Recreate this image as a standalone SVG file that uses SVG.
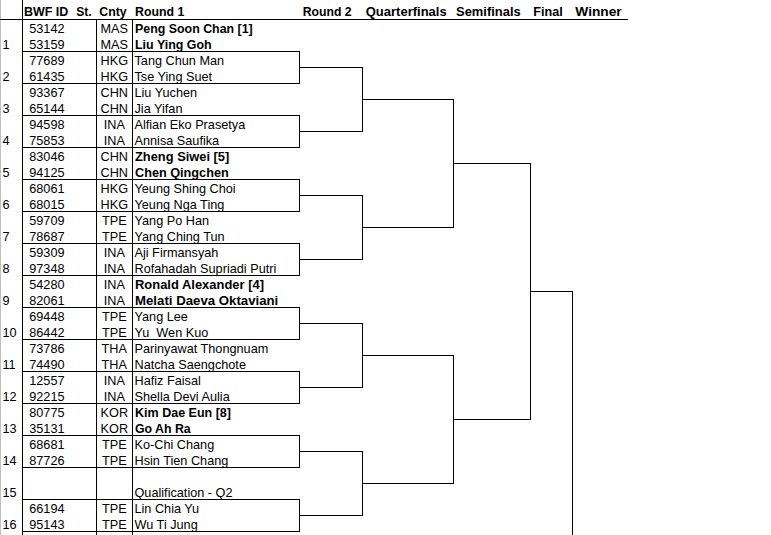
<svg xmlns="http://www.w3.org/2000/svg" width="771" height="535" viewBox="0 0 771 535">
<style>
.bg{fill:#ffffff}
.ln{stroke:#000;stroke-width:1;fill:none;shape-rendering:crispEdges}
.edge{stroke:#c0c0c0;stroke-width:1;shape-rendering:crispEdges}
.t{font-family:"Liberation Sans",Arial,sans-serif;font-size:12.7px;fill:#000}
.n{text-anchor:end}
.c{text-anchor:middle}
.b{font-family:"Liberation Sans",Arial,sans-serif;font-size:13.3px;font-weight:bold;fill:#000}
.h{font-family:"Liberation Sans",Arial,sans-serif;font-size:13.3px;font-weight:bold;fill:#000}
</style>
<rect class="bg" x="0" y="0" width="771" height="535"/>
<g id="grid">
<line class="edge" x1="0.5" y1="0" x2="0.5" y2="535"/>
<path class="ln" d="M22.5 0V535M96.5 19.5V535M132.5 19.5V535M0 19.5H628"/>
<path class="ln" d="M22.5 51.5H299.5M22.5 83.5H299.5M22.5 115.5H299.5M22.5 147.5H299.5M22.5 179.5H299.5M22.5 211.5H299.5M22.5 243.5H299.5M22.5 275.5H299.5M22.5 307.5H299.5M22.5 339.5H299.5M22.5 371.5H299.5M22.5 403.5H299.5M22.5 435.5H299.5M22.5 467.5H299.5M22.5 499.5H299.5M22.5 531.5H299.5"/>
<path class="ln" d="M299.5 51.5V83.5M299.5 115.5V147.5M299.5 179.5V211.5M299.5 243.5V275.5M299.5 307.5V339.5M299.5 371.5V403.5M299.5 435.5V467.5M299.5 499.5V531.5"/>
</g>
<g id="header">
<text class="h" x="24" y="16" textLength="44.3" lengthAdjust="spacingAndGlyphs">BWF ID</text>
<text class="h" x="76.3" y="16" textLength="15.4" lengthAdjust="spacingAndGlyphs">St.</text>
<text class="h" x="99.3" y="16" textLength="27.4" lengthAdjust="spacingAndGlyphs">Cnty</text>
<text class="h" x="135" y="16" textLength="49.3" lengthAdjust="spacingAndGlyphs">Round 1</text>
<text class="h" x="302.7" y="16" textLength="49" lengthAdjust="spacingAndGlyphs">Round 2</text>
<text class="h" x="365.7" y="16" textLength="81" lengthAdjust="spacingAndGlyphs">Quarterfinals</text>
<text class="h" x="456" y="16" textLength="64.7" lengthAdjust="spacingAndGlyphs">Semifinals</text>
<text class="h" x="533.3" y="16" textLength="29.4" lengthAdjust="spacingAndGlyphs">Final</text>
<text class="h" x="575.3" y="16" textLength="46.4" lengthAdjust="spacingAndGlyphs">Winner</text>
</g>
<g id="pair1">
<text class="t n" x="64.5" y="33">53142</text><text class="t c" x="114.3" y="33">MAS</text><text class="b" x="135" y="33" textLength="117.7" lengthAdjust="spacingAndGlyphs">Peng Soon Chan [1]</text>
<text class="t" x="2.5" y="49">1</text><text class="t n" x="64.5" y="49">53159</text><text class="t c" x="114.3" y="49">MAS</text><text class="b" x="135" y="49" textLength="76.7" lengthAdjust="spacingAndGlyphs">Liu Ying Goh</text>
</g>
<g id="pair2">
<text class="t n" x="64.5" y="65">77689</text><text class="t c" x="114.3" y="65">HKG</text><text class="t" x="134.5" y="65">Tang Chun Man</text>
<text class="t" x="2.5" y="81">2</text><text class="t n" x="64.5" y="81">61435</text><text class="t c" x="114.3" y="81">HKG</text><text class="t" x="134.5" y="81">Tse Ying Suet</text>
</g>
<g id="pair3">
<text class="t n" x="64.5" y="97">93367</text><text class="t c" x="114.3" y="97">CHN</text><text class="t" x="134.5" y="97">Liu Yuchen</text>
<text class="t" x="2.5" y="113">3</text><text class="t n" x="64.5" y="113">65144</text><text class="t c" x="114.3" y="113">CHN</text><text class="t" x="134.5" y="113">Jia Yifan</text>
</g>
<g id="pair4">
<text class="t n" x="64.5" y="129">94598</text><text class="t c" x="114.3" y="129">INA</text><text class="t" x="134.5" y="129">Alfian Eko Prasetya</text>
<text class="t" x="2.5" y="145">4</text><text class="t n" x="64.5" y="145">75853</text><text class="t c" x="114.3" y="145">INA</text><text class="t" x="134.5" y="145">Annisa Saufika</text>
</g>
<g id="pair5">
<text class="t n" x="64.5" y="161">83046</text><text class="t c" x="114.3" y="161">CHN</text><text class="b" x="135" y="161" textLength="94.3" lengthAdjust="spacingAndGlyphs">Zheng Siwei [5]</text>
<text class="t" x="2.5" y="177">5</text><text class="t n" x="64.5" y="177">94125</text><text class="t c" x="114.3" y="177">CHN</text><text class="b" x="135" y="177" textLength="93.7" lengthAdjust="spacingAndGlyphs">Chen Qingchen</text>
</g>
<g id="pair6">
<text class="t n" x="64.5" y="193">68061</text><text class="t c" x="114.3" y="193">HKG</text><text class="t" x="134.5" y="193">Yeung Shing Choi</text>
<text class="t" x="2.5" y="209">6</text><text class="t n" x="64.5" y="209">68015</text><text class="t c" x="114.3" y="209">HKG</text><text class="t" x="134.5" y="209">Yeung Nga Ting</text>
</g>
<g id="pair7">
<text class="t n" x="64.5" y="225">59709</text><text class="t c" x="114.3" y="225">TPE</text><text class="t" x="134.5" y="225">Yang Po Han</text>
<text class="t" x="2.5" y="241">7</text><text class="t n" x="64.5" y="241">78687</text><text class="t c" x="114.3" y="241">TPE</text><text class="t" x="134.5" y="241">Yang Ching Tun</text>
</g>
<g id="pair8">
<text class="t n" x="64.5" y="257">59309</text><text class="t c" x="114.3" y="257">INA</text><text class="t" x="134.5" y="257">Aji Firmansyah</text>
<text class="t" x="2.5" y="273">8</text><text class="t n" x="64.5" y="273">97348</text><text class="t c" x="114.3" y="273">INA</text><text class="t" x="134.5" y="273">Rofahadah Supriadi Putri</text>
</g>
<g id="pair9">
<text class="t n" x="64.5" y="289">54280</text><text class="t c" x="114.3" y="289">INA</text><text class="b" x="135" y="289" textLength="129" lengthAdjust="spacingAndGlyphs">Ronald Alexander [4]</text>
<text class="t" x="2.5" y="305">9</text><text class="t n" x="64.5" y="305">82061</text><text class="t c" x="114.3" y="305">INA</text><text class="b" x="135" y="305" textLength="143.3" lengthAdjust="spacingAndGlyphs">Melati Daeva Oktaviani</text>
</g>
<g id="pair10">
<text class="t n" x="64.5" y="321">69448</text><text class="t c" x="114.3" y="321">TPE</text><text class="t" x="134.5" y="321">Yang Lee</text>
<text class="t" x="2.5" y="337">10</text><text class="t n" x="64.5" y="337">86442</text><text class="t c" x="114.3" y="337">TPE</text><text class="t" x="134.5" y="337">Yu_Wen Kuo</text>
</g>
<g id="pair11">
<text class="t n" x="64.5" y="353">73786</text><text class="t c" x="114.3" y="353">THA</text><text class="t" x="134.5" y="353">Parinyawat Thongnuam</text>
<text class="t" x="2.5" y="369">11</text><text class="t n" x="64.5" y="369">74490</text><text class="t c" x="114.3" y="369">THA</text><text class="t" x="134.5" y="369">Natcha Saengchote</text>
</g>
<g id="pair12">
<text class="t n" x="64.5" y="385">12557</text><text class="t c" x="114.3" y="385">INA</text><text class="t" x="134.5" y="385">Hafiz Faisal</text>
<text class="t" x="2.5" y="401">12</text><text class="t n" x="64.5" y="401">92215</text><text class="t c" x="114.3" y="401">INA</text><text class="t" x="134.5" y="401">Shella Devi Aulia</text>
</g>
<g id="pair13">
<text class="t n" x="64.5" y="417">80775</text><text class="t c" x="114.3" y="417">KOR</text><text class="b" x="135" y="417" textLength="96" lengthAdjust="spacingAndGlyphs">Kim Dae Eun [8]</text>
<text class="t" x="2.5" y="433">13</text><text class="t n" x="64.5" y="433">35131</text><text class="t c" x="114.3" y="433">KOR</text><text class="b" x="135" y="433" textLength="55.7" lengthAdjust="spacingAndGlyphs">Go Ah Ra</text>
</g>
<g id="pair14">
<text class="t n" x="64.5" y="449">68681</text><text class="t c" x="114.3" y="449">TPE</text><text class="t" x="134.5" y="449">Ko-Chi Chang</text>
<text class="t" x="2.5" y="465">14</text><text class="t n" x="64.5" y="465">87726</text><text class="t c" x="114.3" y="465">TPE</text><text class="t" x="134.5" y="465">Hsin Tien Chang</text>
</g>
<g id="pair15">
<text class="t" x="2.5" y="497">15</text><text class="t" x="134.5" y="497">Qualification - Q2</text>
</g>
<g id="pair16">
<text class="t n" x="64.5" y="513">66194</text><text class="t c" x="114.3" y="513">TPE</text><text class="t" x="134.5" y="513">Lin Chia Yu</text>
<text class="t" x="2.5" y="529">16</text><text class="t n" x="64.5" y="529">95143</text><text class="t c" x="114.3" y="529">TPE</text><text class="t" x="134.5" y="529">Wu Ti Jung</text>
</g>
<g id="connectors">
<path class="ln" d="M299.5 67.5H362.5M299.5 131.5H362.5M299.5 195.5H362.5M299.5 259.5H362.5M299.5 323.5H362.5M299.5 387.5H362.5M299.5 451.5H362.5M299.5 515.5H362.5"/>
<path class="ln" d="M362.5 67.5V131.5M362.5 195.5V259.5M362.5 323.5V387.5M362.5 451.5V515.5"/>
<path class="ln" d="M362.5 99.5H453.5M362.5 227.5H453.5M362.5 355.5H453.5M362.5 483.5H453.5"/>
<path class="ln" d="M453.5 99.5V227.5M453.5 355.5V483.5M453.5 163.5H530.5M453.5 419.5H530.5"/>
<path class="ln" d="M530.5 163.5V419.5M530.5 291.5H572.5M572.5 291.5V535"/>
</g>
</svg>
